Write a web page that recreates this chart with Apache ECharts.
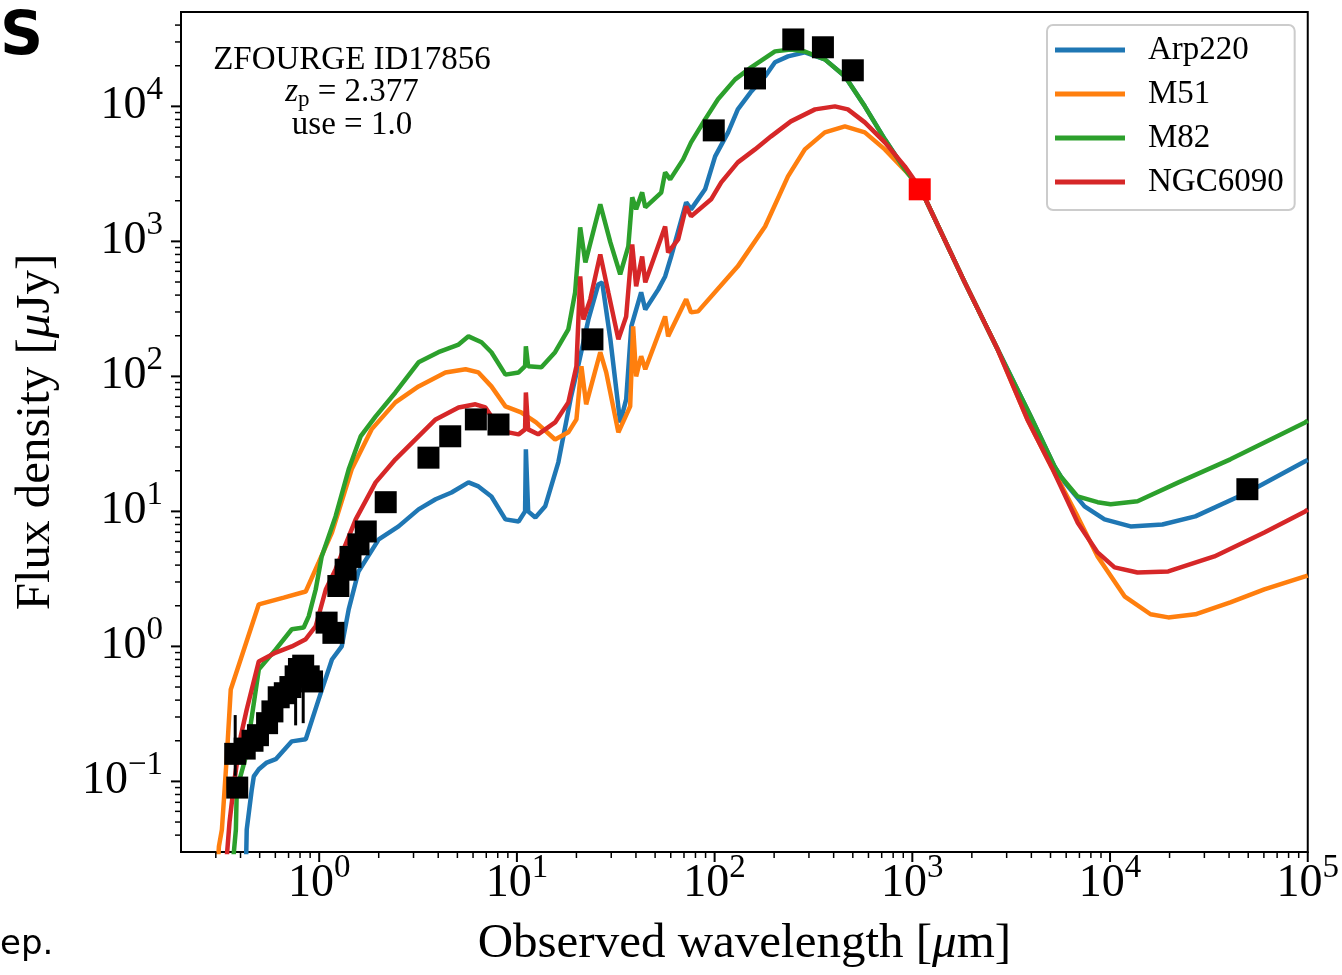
<!DOCTYPE html>
<html>
<head>
<meta charset="utf-8">
<script src="https://cdn.jsdelivr.net/npm/echarts@6/dist/echarts.min.js"></script>
<style>
  html, body { margin: 0; padding: 0; background: #fff; }
  #chart { width: 1342px; height: 975px; }
</style>
</head>
<body>
<div id="chart"></div>
<script>
// ---- axis ranges ----
const X_MIN = 0.2, X_MAX = 1e5;
const Y_MIN = 0.03, Y_MAX = 5e4;

// ---- tick positions ----
const xMajorTicks = [1, 10, 100, 1000, 10000, 100000];
const yMajorTicks = [0.1, 1, 10, 100, 1000, 10000];

// ---- template SEDs: [wavelength (um), flux density (uJy)] ----
const templateNames = ['Arp220', 'M51', 'M82', 'NGC6090'];
const templateColors = ['#1f77b4', '#ff7f0e', '#2ca02c', '#d62728'];

const arp220 = [
  [0.425, 0.019], [0.43, 0.044], [0.456, 0.087], [0.467, 0.109], [0.495, 0.123], [0.543, 0.138],
  [0.603, 0.146], [0.727, 0.198], [0.855, 0.205], [0.994, 0.405], [1.16, 0.80], [1.30, 1.0],
  [1.41, 1.88], [1.58, 3.59], [2.0, 6.21], [2.52, 7.74], [3.18, 10.35], [3.88, 12.3], [4.67, 13.8],
  [5.69, 16.4], [6.39, 15.3], [7.43, 12.9], [8.75, 8.73], [10.2, 8.43], [11.0, 10.0], [11.1, 28.8],
  [11.4, 10.0], [12.4, 9.0], [13.9, 10.9], [16.2, 23.1], [18.8, 71.1], [20.5, 123], [23.0, 264],
  [25.8, 480], [27.0, 497], [29.7, 188], [33.3, 45.6], [35.7, 67.6], [37.9, 235], [42.5, 419],
  [44.6, 313], [51.9, 441], [56.2, 550], [60.3, 774], [71.8, 1944], [76.0, 1726], [89.5, 2430],
  [100.6, 4266], [117, 6420], [131, 9500], [152, 12700], [180, 16690], [202, 21200], [235, 23450],
  [286, 25100], [361, 22300], [456, 16690], [575, 10000], [726, 5700], [916, 3410], [1104, 2430],
  [1841, 497], [2703, 158], [3966, 50.6], [5240, 21.5], [5890, 16.4], [7430, 10.9], [9380, 8.73],
  [12700, 7.74], [18400, 8.0], [27000, 9.18], [49500, 13.8], [97000, 23.5], [100000, 24]
];

const m51 = [
  [0.304, 0.019], [0.311, 0.033], [0.322, 0.044], [0.341, 0.153], [0.357, 0.48], [0.495, 2.05],
  [0.662, 2.30], [0.855, 2.55], [0.994, 4.19], [1.16, 6.98], [1.46, 20.5], [1.84, 40.5], [2.43, 64.2],
  [3.18, 84.3], [4.35, 107], [5.50, 113], [6.39, 107], [7.43, 84.3], [8.75, 60.0], [10.5, 54.1],
  [12.5, 45.6], [15.6, 34.1], [18.2, 38.5], [20.0, 48], [21.2, 119], [22.4, 62.1], [26.4, 151],
  [28.3, 107], [32.6, 38.5], [37.4, 60.0], [38.7, 235], [40.1, 100], [42.5, 141], [44.6, 113],
  [56.2, 278], [58.2, 198], [71.8, 372], [76.0, 298], [82.5, 303], [131, 653], [180, 1290],
  [235, 3030], [286, 4800], [361, 6420], [456, 7110], [575, 6420], [726, 4800], [982, 3030],
  [1104, 2430], [1841, 497], [2703, 158], [3820, 48], [5090, 21], [6850, 9.18], [8650, 4.64],
  [11840, 2.35], [16030, 1.73], [19700, 1.64], [27000, 1.73], [40600, 2.12], [60300, 2.64],
  [97000, 3.30], [100000, 3.35]
];

const m82 = [
  [0.36, 0.019], [0.379, 0.044], [0.383, 0.087], [0.426, 0.153], [0.495, 0.676], [0.603, 0.95],
  [0.727, 1.34], [0.835, 1.38], [0.885, 1.67], [0.96, 2.64], [1.03, 4.64], [1.21, 9.18], [1.41, 20.5],
  [1.62, 35.9], [1.93, 50.6], [2.43, 76], [3.18, 127], [4.01, 151], [5.07, 172], [5.69, 198],
  [6.62, 179], [7.43, 151], [8.75, 103], [10.2, 107], [11.0, 119], [11.1, 167], [11.4, 119],
  [13.3, 117], [15.6, 151], [18.2, 223], [19.7, 419], [20.9, 1270], [22.2, 699], [26.4, 1880],
  [29.7, 983], [33.3, 570], [36.6, 918], [38.3, 2120], [40.1, 1726], [43.0, 2307], [44.6, 1786],
  [53.7, 2300], [56.2, 3244], [59.6, 2880], [69.3, 4050], [76.0, 5410], [89.5, 8010], [104, 11300],
  [127, 15850], [153, 19450], [202, 25550], [243, 26400], [286, 25500], [361, 22300], [456, 16690],
  [575, 10000], [726, 5700], [916, 3410], [1104, 2430], [1841, 497], [2703, 158], [3966, 50.6],
  [5240, 21.5], [5620, 18.2], [6850, 12.9], [8650, 11.7], [10070, 11.3], [13770, 11.9],
  [22200, 16.4], [40600, 24.3], [97000, 45.6], [100000, 47]
];

const ngc6090 = [
  [0.335, 0.02], [0.352, 0.05], [0.372, 0.1], [0.401, 0.216], [0.43, 0.341], [0.495, 0.774],
  [0.603, 0.90], [0.727, 1.0], [0.855, 1.13], [0.96, 1.41], [1.08, 2.64], [1.21, 3.72], [1.53, 8.73],
  [1.93, 16.4], [2.43, 24.3], [3.07, 34.1], [3.88, 48], [5.07, 58.9], [6.17, 62.1], [6.93, 58.9],
  [7.79, 45.6], [9.06, 38.5], [10.2, 37.2], [11.0, 40.5], [11.1, 76], [11.4, 40.5], [12.8, 37.2],
  [15.6, 45.6], [18.2, 64.2], [20.0, 119], [20.9, 550], [21.7, 264], [23.5, 372], [26.4, 801],
  [29.0, 419], [32.6, 188], [35.7, 278], [38.3, 950], [40.1, 464], [43.0, 774], [44.6, 497],
  [56.2, 1290], [58.2, 829], [65.4, 1035], [71.8, 1816], [76.0, 1532], [96, 2050], [108, 2735],
  [131, 3846], [160, 4800], [193, 5995], [243, 7743], [322, 9500], [406, 10000], [472, 9500],
  [575, 7610], [726, 5410], [916, 3594], [1104, 2430], [1841, 497], [2703, 158], [3820, 48],
  [5090, 21], [6850, 8.29], [8650, 4.97], [10540, 3.85], [13770, 3.53], [19700, 3.59],
  [33700, 4.64], [60300, 6.98], [97000, 10.0], [100000, 10.3]
];

// ---- observed photometry: [wavelength (um), flux density (uJy)] ----
const photometry = [
  [0.376, 0.16], [0.385, 0.09], [0.42, 0.175], [0.46, 0.20], [0.49, 0.22], [0.545, 0.27],
  [0.58, 0.33], [0.624, 0.42], [0.67, 0.45], [0.715, 0.50], [0.76, 0.60], [0.79, 0.68],
  [0.83, 0.72], [0.885, 0.60], [0.92, 0.55], [1.09, 1.5], [1.18, 1.26], [1.25, 2.8], [1.36, 3.7],
  [1.44, 4.6], [1.58, 5.7], [1.72, 7.1], [2.17, 11.7], [3.57, 25], [4.6, 36], [6.2, 48],
  [8.07, 44], [24.1, 188], [99, 6640], [160, 16100], [250, 31300], [353, 27400], [500, 18500],
  [49500, 14.6]
];
// [wavelength, lower, upper]
const photometryErrors = [
  [0.376, 0.11, 0.31], [0.545, 0.19, 0.33], [0.76, 0.26, 0.62], [0.83, 0.27, 0.72]
];
// mm detection
const mmPoint = [[1090, 2430]];

// ---- fonts ----
const SERIF = '"Liberation Serif", "DejaVu Serif", serif';

function minorTicks(lo, hi) {
  const out = [];
  for (let k = -3; k <= 5; k++) {
    for (let m = 2; m <= 9; m++) {
      const v = m * Math.pow(10, k);
      if (v > lo * 1.0001 && v < hi * 0.9999) out.push(v);
    }
  }
  return out;
}

const xTickData = xMajorTicks.map(v => [v, Y_MIN, 10, 2])
  .concat(minorTicks(X_MIN, X_MAX).map(v => [v, Y_MIN, 6, 1.5]));
const yTickData = yMajorTicks.map(v => [X_MIN, v, 10, 2])
  .concat(minorTicks(Y_MIN, Y_MAX).map(v => [X_MIN, v, 6, 1.5]));

function powerLabel(value) {
  const e = Math.log10(value);
  const r = Math.round(e);
  if (Math.abs(e - r) > 1e-6) return '';
  const exp = r < 0 ? '\u2212' + (-r) : String(r);
  return '{b|10}{s|' + exp + '}';
}

const labelRich = {
  b: { fontFamily: SERIF, fontSize: 46, lineHeight: 46, color: '#000', verticalAlign: 'middle' },
  s: { fontFamily: SERIF, fontSize: 33, lineHeight: 33, color: '#000', padding: [0, 0, 32, 0], verticalAlign: 'middle' }
};

const nameRich = {
  n: { fontFamily: SERIF, fontSize: 49, lineHeight: 49, color: '#000' },
  m: { fontFamily: SERIF, fontSize: 49, lineHeight: 49, fontStyle: 'italic', color: '#000' }
};

const chart = echarts.init(document.getElementById('chart'), null, { renderer: 'canvas' });

const lineSeries = [arp220, m51, m82, ngc6090].map((d, i) => ({
  name: templateNames[i],
  type: 'line',
  data: d,
  symbol: 'none',
  showSymbol: false,
  clip: true,
  lineStyle: { color: templateColors[i], width: 4.5 },
  itemStyle: { color: templateColors[i] },
  emphasis: { disabled: true },
  z: 2
}));

const option = {
  animation: false,
  backgroundColor: '#fff',
  grid: {
    left: 181, top: 12, width: 1129, height: 840,
    show: true, borderColor: '#000', borderWidth: 2, backgroundColor: 'transparent'
  },
  xAxis: {
    type: 'log', logBase: 10, min: X_MIN, max: X_MAX,
    name: '{n|Observed wavelength [}{m|\u03bc}{n|m]}',
    nameLocation: 'middle', nameGap: 68, nameMoveOverlap: false,
    nameTextStyle: { rich: nameRich },
    axisLine: { show: true, onZero: false, lineStyle: { color: '#000', width: 2 } },
    axisTick: { show: false },
    minorTick: { show: false },
    splitLine: { show: false },
    axisLabel: { formatter: powerLabel, margin: 9, rich: labelRich, showMinLabel: true, showMaxLabel: true }
  },
  yAxis: {
    type: 'log', logBase: 10, min: Y_MIN, max: Y_MAX,
    name: '{n|Flux density [}{m|\u03bc}{n|Jy]}',
    nameLocation: 'middle', nameGap: 120, nameMoveOverlap: false,
    nameTextStyle: { rich: nameRich },
    axisLine: { show: true, onZero: false, lineStyle: { color: '#000', width: 2 } },
    axisTick: { show: false },
    minorTick: { show: false },
    splitLine: { show: false },
    axisLabel: { formatter: powerLabel, margin: 18, rich: labelRich, showMinLabel: true, showMaxLabel: true }
  },
  legend: {
    orient: 'vertical',
    left: 1047, top: 25,
    padding: [8, 11, 11, 8],
    itemGap: 10,
    itemWidth: 70, itemHeight: 5,
    icon: 'rect',
    data: templateNames,
    backgroundColor: 'rgba(255,255,255,0.85)',
    borderColor: '#cccccc', borderWidth: 2, borderRadius: 6,
    textStyle: { fontFamily: SERIF, fontSize: 33, lineHeight: 34, color: '#000', padding: [0, 0, 0, 18] },
    selectedMode: false
  },
  series: lineSeries.concat([
    {
      name: 'errors',
      type: 'custom',
      data: photometryErrors,
      encode: { x: 0, y: [1, 2] },
      renderItem: (params, api) => {
        const p1 = api.coord([api.value(0), api.value(1)]);
        const p2 = api.coord([api.value(0), api.value(2)]);
        return { type: 'line', shape: { x1: p1[0], y1: p1[1], x2: p2[0], y2: p2[1] },
                 style: { stroke: '#000', lineWidth: 3 } };
      },
      silent: true, z: 3
    },
    {
      name: 'photometry',
      type: 'scatter',
      data: photometry,
      symbol: 'rect', symbolSize: 22,
      itemStyle: { color: '#000', opacity: 1 },
      emphasis: { disabled: true },
      silent: true, z: 4
    },
    {
      name: 'mm',
      type: 'scatter',
      data: mmPoint,
      symbol: 'rect', symbolSize: 22,
      itemStyle: { color: '#ff0000', opacity: 1 },
      emphasis: { disabled: true },
      silent: true, z: 4
    },
    {
      name: 'xticks',
      type: 'custom',
      data: xTickData,
      encode: { x: 0, y: 1 },
      clip: false,
      renderItem: (params, api) => {
        const p = api.coord([api.value(0), api.value(1)]);
        const len = api.value(2);
        return { type: 'line', shape: { x1: p[0], y1: p[1], x2: p[0], y2: p[1] + len },
                 style: { stroke: '#000', lineWidth: api.value(3) } };
      },
      silent: true, z: 5
    },
    {
      name: 'yticks',
      type: 'custom',
      data: yTickData,
      encode: { x: 0, y: 1 },
      clip: false,
      renderItem: (params, api) => {
        const p = api.coord([api.value(0), api.value(1)]);
        const len = api.value(2);
        return { type: 'line', shape: { x1: p[0], y1: p[1], x2: p[0] - len, y2: p[1] },
                 style: { stroke: '#000', lineWidth: api.value(3) } };
      },
      silent: true, z: 5
    }
  ]),
  graphic: [
    { type: 'text', silent: true,
      style: { text: 'ZFOURGE ID17856', x: 352, y: 60, align: 'center', verticalAlign: 'middle',
               fill: '#000', font: '33px ' + SERIF } },
    { type: 'text', silent: true,
      style: { text: '{z|z}{p|p}{t| = 2.377}', x: 352, y: 92, align: 'center', verticalAlign: 'middle',
               rich: {
                 z: { fontFamily: SERIF, fontSize: 33, fontStyle: 'italic', fill: '#000', verticalAlign: 'middle', lineHeight: 33 },
                 p: { fontFamily: SERIF, fontSize: 23, fill: '#000', lineHeight: 23, padding: [16, 0, 0, 0], verticalAlign: 'middle' },
                 t: { fontFamily: SERIF, fontSize: 33, fill: '#000', verticalAlign: 'middle', lineHeight: 33 }
               } } },
    { type: 'text', silent: true,
      style: { text: 'use = 1.0', x: 352, y: 125, align: 'center', verticalAlign: 'middle',
               fill: '#000', font: '33px ' + SERIF } },
    { type: 'text', silent: true,
      style: { text: 'S', x: 0, y: 38, align: 'left', verticalAlign: 'middle',
               fill: '#000', font: 'bold 60px "DejaVu Sans", sans-serif' } },
    { type: 'text', silent: true,
      style: { text: 'ep.', x: 0, y: 945, align: 'left', verticalAlign: 'middle',
               fill: '#000', font: '34px "DejaVu Sans", sans-serif' } }
  ]
};

chart.setOption(option);
</script>
</body>
</html>
